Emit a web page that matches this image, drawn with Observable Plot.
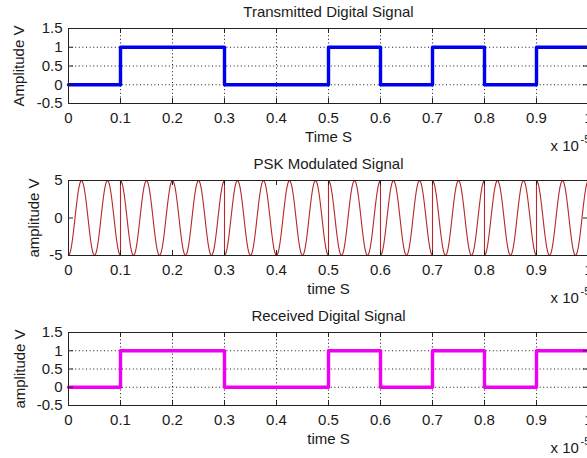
<!DOCTYPE html>
<html><head><meta charset="utf-8">
<script src="https://cdn.jsdelivr.net/npm/d3@7"></script>
<script src="https://cdn.jsdelivr.net/npm/@observablehq/plot@0.6"></script>
<style>
html,body{margin:0;padding:0;background:#fff;}
#fig{position:relative;width:587px;height:458px;overflow:hidden;background:#fff;}
#fig svg{position:absolute;left:0;}
</style></head><body><div id="fig"></div>
<script>
// ---- data ----
const transmittedBits = [0, 1, 1, 0, 0, 1, 0, 1, 0, 1];
const receivedBits    = [0, 1, 1, 0, 0, 1, 0, 1, 0, 1];
const bitDuration = 0.1;          // in units of 1e-5 s
const carrierAmplitude = 5;       // V
const carrierCyclesPerBit = 2;
const samplesPerBit = 60;
const xTicks = [0, 0.1, 0.2, 0.3, 0.4, 0.5, 0.6, 0.7, 0.8, 0.9, 1];
const digitalYTicks = [-0.5, 0, 0.5, 1, 1.5];
const pskYTicks = [-5, 0, 5];
const titles = ["Transmitted Digital Signal", "PSK Modulated Signal", "Received Digital Signal"];
const yLabels = ["Amplitude V", "amplitude V", "amplitude V"];
const xLabels = ["Time S", "time S", "time S"];
const xExponent = ["x 10", "-5"];

// ---- derived tables ----
function stepTable(bits) {
  const rows = bits.map((b, i) => ({t: i * bitDuration, v: b}));
  rows.push({t: bits.length * bitDuration, v: bits[bits.length - 1]});
  return rows;
}
function pskTable(bits) {
  const rows = [];
  bits.forEach((b, i) => {
    const sign = b ? 1 : -1;
    for (let k = 0; k <= samplesPerBit; k++) {
      const frac = k / samplesPerBit;
      rows.push({t: (i + frac) * bitDuration,
                 v: sign * carrierAmplitude * Math.cos(2 * Math.PI * carrierCyclesPerBit * frac)});
    }
  });
  return rows;
}

const W = 600, ML = 68, MR = 12, PW = W - ML - MR;
const FONT = "'Liberation Sans', Arial, Helvetica, sans-serif";
const TXT = "#1a1a1a";

function subplot({top, mt, ph, mb, yDomain, yTicks, grid, title, ylabel, ylabelX, xlabel, line}) {
  const H = mt + ph + mb;
  const marks = [];
  if (grid) {
    marks.push(Plot.gridX({ticks: xTicks, stroke: "#000", strokeOpacity: 0.9, strokeDasharray: "1,2.6"}));
    marks.push(Plot.gridY({ticks: yTicks, stroke: "#000", strokeOpacity: 0.9, strokeDasharray: "1,2.6"}));
  }
  marks.push(line);
  marks.push(Plot.frame({stroke: "#222", strokeWidth: 1}));
  marks.push(Plot.tickX(xTicks, {x: d => d, insetTop: ph - 5, stroke: "#222"}));
  marks.push(Plot.tickX(xTicks, {x: d => d, insetBottom: ph - 5, stroke: "#222"}));
  marks.push(Plot.tickY(yTicks, {y: d => d, insetRight: PW - 5, stroke: "#222"}));
  marks.push(Plot.tickY(yTicks, {y: d => d, insetLeft: PW - 5, stroke: "#222"}));
  marks.push(Plot.axisX({ticks: xTicks, tickSize: 0, tickPadding: 9, fontSize: 15, fill: TXT, tickFormat: d => String(d), label: null}));
  marks.push(Plot.axisY({ticks: yTicks, tickSize: 0, tickPadding: 6, fontSize: 15, fill: TXT, tickFormat: d => String(d), label: null}));
  marks.push(Plot.text([title], {frameAnchor: "top", lineAnchor: "middle", dy: -16, fontSize: 15, fill: TXT}));
  marks.push(Plot.text([xlabel], {frameAnchor: "bottom", lineAnchor: "middle", dy: 34, fontSize: 15, fill: TXT}));
  marks.push(Plot.text([xExponent[0]], {frameAnchor: "bottom-right", textAnchor: "start", lineAnchor: "middle", dx: -38, dy: 43, fontSize: 15, fill: TXT}));
  marks.push(Plot.text([xExponent[1]], {frameAnchor: "bottom-right", textAnchor: "start", lineAnchor: "middle", dx: -8, dy: 36, fontSize: 11, fill: TXT}));
  marks.push(Plot.text([ylabel], {frameAnchor: "left", textAnchor: "middle", lineAnchor: "middle", rotate: -90, dx: ylabelX - ML, fontSize: 15, fill: TXT}));
  const svg = Plot.plot({
    width: W, height: H,
    marginLeft: ML, marginRight: MR, marginTop: mt, marginBottom: mb,
    x: {domain: [0, 1]},
    y: {domain: yDomain},
    style: {fontFamily: FONT, fontSize: "15px", background: "transparent", overflow: "visible", maxWidth: "none"},
    marks
  });
  svg.style.top = top + "px";
  document.getElementById("fig").appendChild(svg);
}

subplot({top: 0, mt: 28, ph: 75, mb: 49, yDomain: [-0.5, 1.5], yTicks: digitalYTicks, grid: true,
  title: titles[0], ylabel: yLabels[0], ylabelX: 19, xlabel: xLabels[0],
  line: Plot.line(stepTable(transmittedBits), {x: "t", y: "v", curve: "step-after", stroke: "#0000f0", strokeWidth: 3.4})});

subplot({top: 152, mt: 28, ph: 75, mb: 49, yDomain: [-5, 5], yTicks: pskYTicks, grid: false,
  title: titles[1], ylabel: yLabels[1], ylabelX: 34, xlabel: xLabels[1],
  line: Plot.line(pskTable(transmittedBits), {x: "t", y: "v", stroke: "#b52a2a", strokeWidth: 1.1})});

subplot({top: 304, mt: 28, ph: 73, mb: 53, yDomain: [-0.5, 1.5], yTicks: digitalYTicks, grid: true,
  title: titles[2], ylabel: yLabels[2], ylabelX: 20, xlabel: xLabels[2],
  line: Plot.line(stepTable(receivedBits), {x: "t", y: "v", curve: "step-after", stroke: "#f000f0", strokeWidth: 3.4})});
</script>
</body></html>
